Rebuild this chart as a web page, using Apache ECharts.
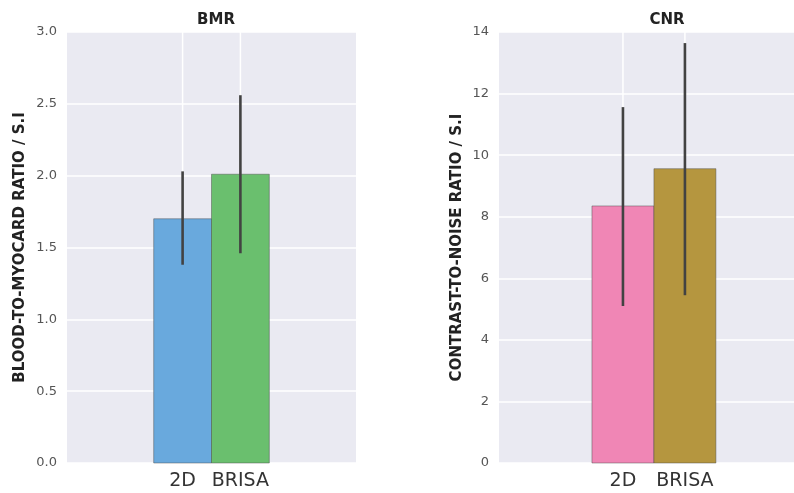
<!DOCTYPE html>
<html>
<head>
<meta charset="utf-8">
<script src="https://cdn.jsdelivr.net/npm/echarts@6/dist/echarts.min.js"></script>
<style>
html, body { margin: 0; padding: 0; background: #fff; }
#chart { width: 794px; height: 493px; }
</style>
</head>
<body>
<div id="chart"></div>
<script>
// groups on the x axis (bar index 0, 1)
var groups = ['2D', 'BRISA'];

// BMR panel: mean and error bar ends
var bmrMean = [1.70, 2.01];
var bmrLow = [1.38, 1.46];
var bmrHigh = [2.03, 2.56];

// CNR panel
var cnrMean = [8.35, 9.56];
var cnrLow = [5.10, 5.45];
var cnrHigh = [11.56, 13.64];

// y ticks
var bmrTicks = [0, 0.5, 1.0, 1.5, 2.0, 2.5, 3.0];
var cnrTicks = [0, 2, 4, 6, 8, 10, 12, 14];

var bmrColors = ['#69a9dd', '#6abf6e'];
var cnrColors = ['#f086b5', '#b5963f'];

var chart = echarts.init(document.getElementById('chart'));

function rows(mean, low, high) {
  return mean.map(function (v, i) { return [i, v, low[i], high[i]]; });
}

function barRender(colors) {
  return function (params, api) {
    var x = api.value(0), v = api.value(1), lo = api.value(2), hi = api.value(3);
    var p0 = api.coord([x - 0.5, v]);
    var p1 = api.coord([x + 0.5, 0]);
    var e0 = api.coord([x, hi]);
    var e1 = api.coord([x, lo]);
    return {
      type: 'group',
      children: [
        {
          type: 'rect',
          shape: { x: p0[0], y: p0[1], width: p1[0] - p0[0], height: p1[1] - p0[1] },
          style: { fill: colors[params.dataIndex], stroke: 'rgba(70,70,70,0.45)', lineWidth: 1 }
        },
        {
          type: 'line',
          shape: { x1: e0[0], y1: e0[1], x2: e1[0], y2: e1[1] },
          style: { stroke: '#424242', lineWidth: 2.6 }
        }
      ]
    };
  };
}

// white vertical grid lines at the group positions
function vGridRender(params, api) {
  var x = api.value(0);
  var top = api.coord([x, api.value(1)]);
  var bot = api.coord([x, 0]);
  return {
    type: 'line',
    shape: { x1: top[0], y1: top[1], x2: bot[0], y2: bot[1] },
    style: { stroke: '#ffffff', lineWidth: 1.5 }
  };
}

function xAxisFor(gi, max) {
  return {
    type: 'value', gridIndex: gi, min: -2, max: max, interval: 1,
    axisLine: { show: false }, axisTick: { show: false }, splitLine: { show: false },
    axisLabel: {
      color: '#333', fontSize: 19, margin: 9, fontFamily: 'DejaVu Sans',
      showMaxLabel: false,
      formatter: function (v) { return groups[v] !== undefined ? groups[v] : ''; }
    }
  };
}

function yAxisFor(gi, ticks, name, gap, digits) {
  return {
    type: 'value', gridIndex: gi, min: ticks[0], max: ticks[ticks.length - 1],
    interval: ticks[1] - ticks[0],
    name: name, nameLocation: 'middle', nameGap: gap,
    nameTextStyle: { fontFamily: 'DejaVu Sans', fontWeight: 'bold', fontSize: 15, color: '#222' },
    axisLine: { show: false }, axisTick: { show: false },
    splitLine: { show: true, lineStyle: { color: '#ffffff', width: 1.5 } },
    axisLabel: {
      color: '#555', fontSize: 13, margin: 10, fontFamily: 'DejaVu Sans',
      formatter: function (v) { return v.toFixed(digits); }
    }
  };
}

var option = {
  backgroundColor: '#ffffff',
  animation: false,
  title: [
    { text: 'BMR', left: 211, top: 8, textAlign: 'center',
      textStyle: { fontFamily: 'DejaVu Sans', fontWeight: 'bold', fontSize: 15, color: '#222' } },
    { text: 'CNR', left: 662, top: 8, textAlign: 'center',
      textStyle: { fontFamily: 'DejaVu Sans', fontWeight: 'bold', fontSize: 15, color: '#222' } }
  ],
  grid: [
    { left: 67, top: 32, width: 289, height: 431, show: true, backgroundColor: '#eaeaf2', borderWidth: 0 },
    { left: 499, top: 32, width: 295, height: 431, show: true, backgroundColor: '#eaeaf2', borderWidth: 0 }
  ],
  xAxis: [xAxisFor(0, 3), xAxisFor(1, 2.76)],
  yAxis: [
    yAxisFor(0, bmrTicks, 'BLOOD-TO-MYOCARD RATIO / S.I', 39, 1),
    yAxisFor(1, cnrTicks, 'CONTRAST-TO-NOISE RATIO / S.I', 34, 0)
  ],
  series: [
    { type: 'custom', xAxisIndex: 0, yAxisIndex: 0, z: 1, silent: true,
      data: groups.map(function (g, i) { return [i, bmrTicks[bmrTicks.length - 1]]; }),
      renderItem: vGridRender },
    { type: 'custom', xAxisIndex: 1, yAxisIndex: 1, z: 1, silent: true,
      data: groups.map(function (g, i) { return [i, cnrTicks[cnrTicks.length - 1]]; }),
      renderItem: vGridRender },
    { type: 'custom', name: 'BMR', xAxisIndex: 0, yAxisIndex: 0, z: 2,
      data: rows(bmrMean, bmrLow, bmrHigh), renderItem: barRender(bmrColors) },
    { type: 'custom', name: 'CNR', xAxisIndex: 1, yAxisIndex: 1, z: 2,
      data: rows(cnrMean, cnrLow, cnrHigh), renderItem: barRender(cnrColors) }
  ]
};

chart.setOption(option);
</script>
</body>
</html>
